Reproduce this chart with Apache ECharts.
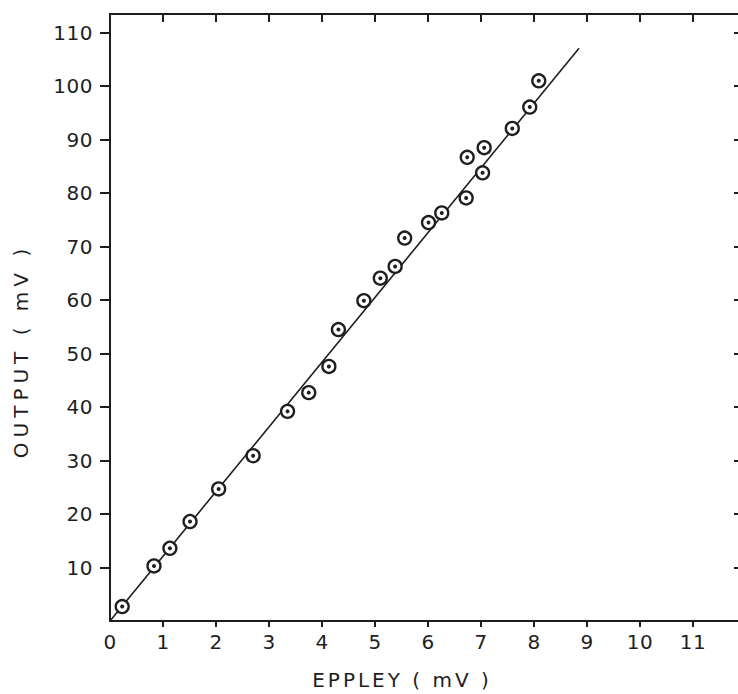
<!DOCTYPE html>
<html>
<head>
<meta charset="utf-8">
<script src="https://cdn.jsdelivr.net/npm/echarts@6/dist/echarts.min.js"></script>
<style>
  html, body { margin: 0; padding: 0; background: #ffffff; }
  #chart { width: 738px; height: 694px; }
</style>
</head>
<body>
<div id="chart"></div>
<script>
// Data
const eppleyMv = [0.23, 0.83, 1.13, 1.51, 2.05, 2.70, 3.35, 3.75, 4.13, 4.31, 4.79, 5.10, 5.38, 5.56, 6.01, 6.26, 6.72, 6.74, 7.03, 7.06, 7.59, 7.92, 8.09];
const outputMv = [2.7, 10.3, 13.6, 18.6, 24.7, 30.9, 39.2, 42.7, 47.6, 54.5, 59.9, 64.1, 66.3, 71.6, 74.5, 76.3, 79.1, 86.7, 83.8, 88.5, 92.1, 96.1, 101.0];
const fitLineX = [0, 8.85];
const fitLineY = [0, 107.1];
const xTickLabels = [0, 1, 2, 3, 4, 5, 6, 7, 8, 9, 10, 11];
const xFrameTicks = [1, 2, 3, 4, 5, 6, 7, 8, 9, 10, 11];
const yTickLabels = [10, 20, 30, 40, 50, 60, 70, 80, 90, 100, 110];
const xTitle = 'EPPLEY ( mV )';
const yTitle = 'OUTPUT ( mV )';

const points = eppleyMv.map((x, i) => [x, outputMv[i]]);
const fitLine = fitLineX.map((x, i) => [x, fitLineY[i]]);

const ink = '#1e1e1e';
const font = 'DejaVu Sans';

const chart = echarts.init(document.getElementById('chart'), null, { renderer: 'svg' });

const baseAxisLine = { show: true, onZero: false, lineStyle: { color: ink, width: 2 } };

chart.setOption({
  animation: false,
  backgroundColor: '#ffffff',
  grid: { left: 110, top: 14, width: 636, height: 607, outerBoundsMode: 'none', containLabel: false },
  xAxis: [
    {
      type: 'value', position: 'bottom', min: 0, max: 12,
      axisLine: baseAxisLine,
      axisTick: { show: true, inside: false, length: 6, customValues: xFrameTicks, lineStyle: { color: ink, width: 2 } },
      axisLabel: { show: true, customValues: xTickLabels, margin: 11, color: ink, fontFamily: font, fontSize: 20 },
      splitLine: { show: false }
    },
    {
      type: 'value', position: 'top', min: 0, max: 12,
      axisLine: baseAxisLine,
      axisTick: { show: true, inside: true, length: 8, customValues: xFrameTicks, lineStyle: { color: ink, width: 2 } },
      axisLabel: { show: false },
      splitLine: { show: false }
    }
  ],
  yAxis: [
    {
      type: 'value', position: 'left', min: 0, max: 113.5,
      axisLine: baseAxisLine,
      axisTick: { show: true, inside: false, length: 10, customValues: yTickLabels, lineStyle: { color: ink, width: 2 } },
      axisLabel: { show: true, customValues: yTickLabels, margin: 17, color: ink, fontFamily: font, fontSize: 20 },
      splitLine: { show: false }
    },
    {
      type: 'value', position: 'right', min: 0, max: 113.5,
      axisLine: baseAxisLine,
      axisTick: { show: true, inside: true, length: 12, customValues: yTickLabels, lineStyle: { color: ink, width: 2 } },
      axisLabel: { show: false },
      splitLine: { show: false }
    }
  ],
  graphic: [
    {
      type: 'text', x: 402, y: 680, z: 10,
      style: { text: xTitle, align: 'center', verticalAlign: 'middle', fill: ink, font: '20px "' + font + '"' }
    },
    {
      type: 'text', x: 21, y: 351, rotation: Math.PI / 2, z: 10,
      style: { text: yTitle, align: 'center', verticalAlign: 'middle', fill: ink, font: '20px "' + font + '"' }
    }
  ],
  series: [
    {
      type: 'line', data: fitLine, xAxisIndex: 0, yAxisIndex: 0,
      symbol: 'none', lineStyle: { color: ink, width: 1.6 }, z: 2, silent: true
    },
    {
      type: 'scatter', data: points, xAxisIndex: 0, yAxisIndex: 0,
      symbol: 'circle', symbolSize: 13,
      itemStyle: { color: '#ffffff', borderColor: ink, borderWidth: 2.3, opacity: 1 }, z: 3, silent: true
    },
    {
      type: 'scatter', data: points, xAxisIndex: 0, yAxisIndex: 0,
      symbol: 'circle', symbolSize: 4,
      itemStyle: { color: ink, opacity: 1 }, z: 4, silent: true
    }
  ]
});

function spaceLetters() {
  const texts = document.querySelectorAll('#chart text');
  texts.forEach(t => {
    const s = t.textContent || '';
    let sp = '0.5px';
    if (s.indexOf('EPPLEY') === 0) sp = '3px';
    else if (s.indexOf('OUTPUT') === 0) sp = '5px';
    t.style.letterSpacing = sp;
  });
}
chart.on('finished', spaceLetters);
setTimeout(spaceLetters, 50);
</script>
</body>
</html>
